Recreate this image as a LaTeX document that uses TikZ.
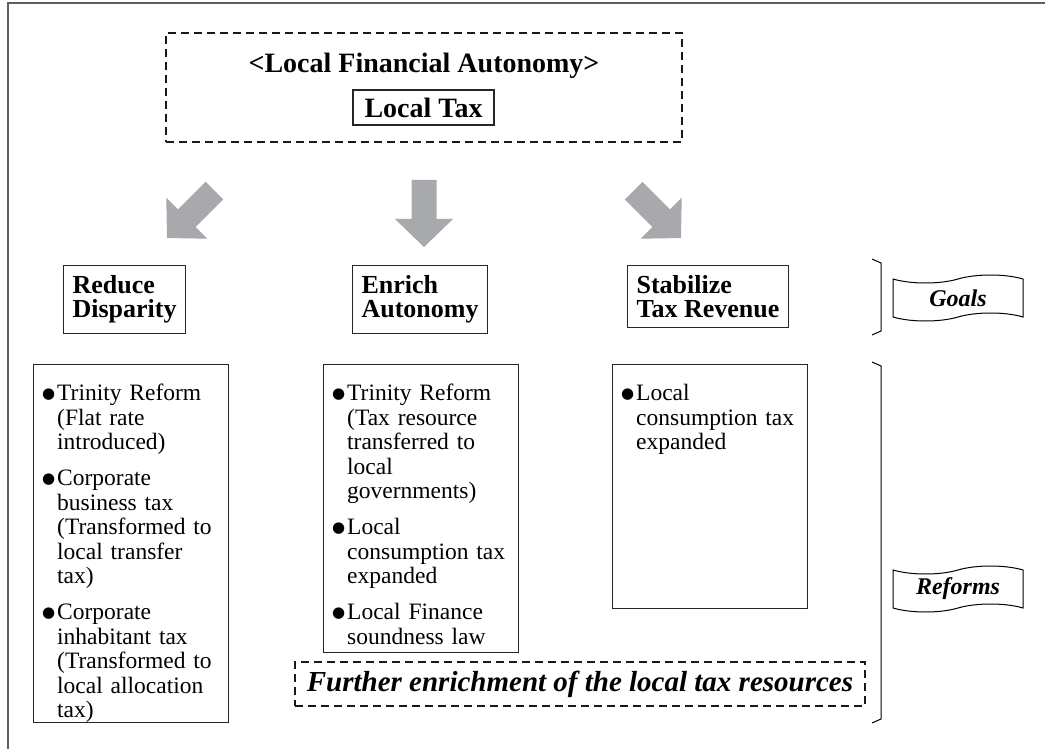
\documentclass[tikz,border=0pt]{standalone}
\usepackage{fontspec}
\setmainfont{Liberation Serif}
\newfontfamily\dotfont{DejaVu Sans}
\usetikzlibrary{shapes.symbols}
\definecolor{arrowgray}{RGB}{167,169,172}
\definecolor{framegray}{RGB}{95,95,95}
\newcommand{\blt}{\makebox[15pt][l]{\raisebox{2.5pt}{\dotfont\fontsize{15}{15}\selectfont ●}}}
\newcommand{\ritem}[1]{\par\hangindent=15pt\hangafter=1\noindent\blt #1}
\newcommand{\rgap}{\par\vspace{11.5pt}}

\begin{document}
\begin{tikzpicture}[x=1pt,y=-1pt,
    box/.style={draw=black!85,line width=1.1pt},
    dbox/.style={draw=black!90,line width=1.8pt,dash pattern=on 8pt off 5pt},
    goal/.style={box,align=left,inner xsep=9pt,inner ysep=10pt,
      font=\bfseries\fontsize{26}{24}\selectfont},
    rbox/.style={box,anchor=north west,minimum width=195pt},
    rtext/.style={anchor=north west,inner sep=0pt,text width=180pt,
      font=\fontsize{23.5}{24.5}\selectfont},
    flag/.style={draw,line width=1pt,shape=tape,tape bend height=8pt,
      minimum width=130pt,minimum height=46pt,
      font=\bfseries\itshape\fontsize{24}{24}\selectfont}]
  \useasboundingbox (0,0) rectangle (1045,749);
  \draw[framegray,line width=2pt] (8,749) -- (8,3) -- (1045,3);

  \node[dbox,minimum width=516pt,minimum height=109pt] (top) at (424,87.5) {};
  \node[anchor=base,font=\bfseries\fontsize{28}{28}\selectfont] (title) at (424,73)
    {<Local Financial Autonomy>};
  \node[box,minimum width=141pt,minimum height=35pt,inner sep=0pt,
    font=\bfseries\fontsize{28}{28}\selectfont] (ltax) at (423.5,107.5) {Local Tax};

  \foreach \t/\a in {{(167,238)}/-45,{(424,247)}/0,{(681,238)}/45}
    \fill[arrowgray,shift={\t},rotate=\a] (0,0) -- (29,-28) -- (12.5,-28)
      -- (12.5,-67) -- (-12.5,-67) -- (-12.5,-28) -- (-29,-28) -- cycle;

  \node[goal,anchor=north west] (g1) at (63,265) {Reduce\\Disparity};
  \node[goal,anchor=north west] (g2) at (352,265) {Enrich\\Autonomy};
  \node[goal,anchor=north west] (g3) at (627,265) {Stabilize\\Tax Revenue};

  \node[rbox,minimum height=358pt] (r1) at (33,364) {};
  \node[rbox,minimum height=288pt] (r2) at (323,364) {};
  \node[rbox,minimum height=244pt] (r3) at (612,364) {};
  \node[rtext] (t1) at ([shift={(9,12)}]r1.north west) {%
    \ritem{Trinity Reform\newline(Flat rate\newline introduced)}\rgap
    \ritem{Corporate\newline business tax\newline(Transformed to\newline local transfer\newline tax)}\rgap
    \ritem{Corporate\newline inhabitant tax\newline(Transformed to\newline local allocation\newline tax)}\par};
  \node[rtext] (t2) at ([shift={(9,12)}]r2.north west) {%
    \ritem{Trinity Reform\newline(Tax resource\newline transferred to\newline local\newline governments)}\rgap
    \ritem{Local\newline consumption tax\newline expanded}\rgap
    \ritem{Local Finance\newline soundness law}\par};
  \node[rtext] (t3) at ([shift={(9,12)}]r3.north west) {%
    \ritem{Local\newline consumption tax\newline expanded}\par};

  \node[dbox,minimum width=570pt,minimum height=44pt,inner sep=0pt,
    font=\bfseries\itshape\fontsize{29}{29}\selectfont] (further) at (580,684)
    {Further enrichment of the local tax resources};

  \draw[line width=1pt] (872,259) -- (881,263) -- (881,331) -- (872,335);
  \draw[line width=1pt] (872,362) -- (881,366) -- (881,719) -- (872,723);
  \node[flag] (goals) at (958,298) {Goals};
  \node[flag] (reforms) at (958,589) {Reforms};
\end{tikzpicture}
\end{document}
